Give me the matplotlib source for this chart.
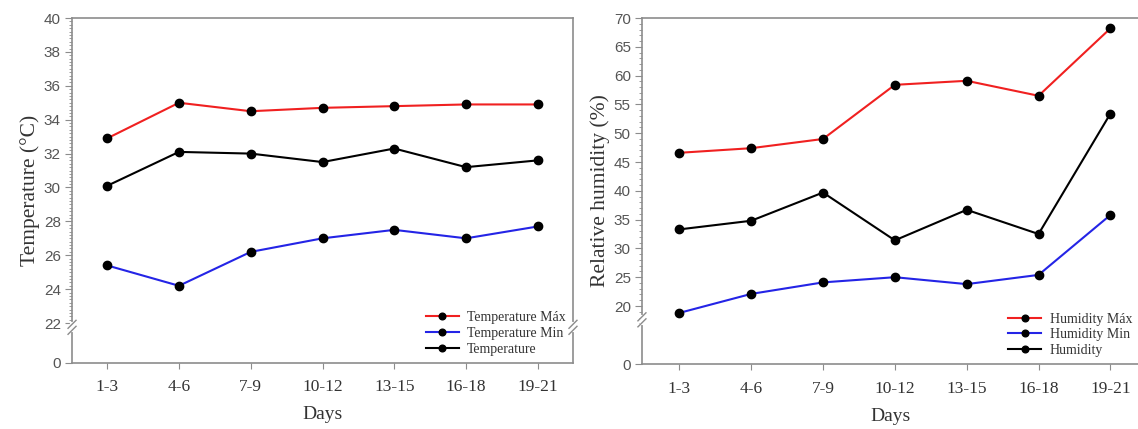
#Recreation of the temperature / humidity panels with broken y axes
import numpy as np
import matplotlib.pyplot as plt
from matplotlib.ticker import FixedLocator

#data
days = ['1-3', '4-6', '7-9', '10-12', '13-15', '16-18', '19-21']

temp_max = [32.9, 35.0, 34.5, 34.7, 34.8, 34.9, 34.9]
temp_min = [25.4, 24.2, 26.2, 27.0, 27.5, 27.0, 27.7]
temp_mean = [30.1, 32.1, 32.0, 31.5, 32.3, 31.2, 31.6]

hum_max = [46.6, 47.4, 49.0, 58.4, 59.1, 56.5, 68.2]
hum_min = [18.8, 22.1, 24.1, 25.0, 23.8, 25.4, 35.8]
hum_mean = [33.3, 34.8, 39.7, 31.4, 36.7, 32.5, 53.4]

temp_ticks = [22, 24, 26, 28, 30, 32, 34, 36, 38, 40]
hum_ticks = [20, 25, 30, 35, 40, 45, 50, 55, 60, 65, 70]

serif = ['Liberation Serif', 'DejaVu Serif']
sans = ['Liberation Sans', 'DejaVu Sans']
spine_col = '#8c8c8c'


def break_mark(ax, xa, yv):
    """ draws a '//' axis break on a spine at x (axes coords) and y (data) """
    y0, y1 = ax.get_ylim()
    ya = (yv - y0) / (y1 - y0)
    fig_h = ax.get_position().height * ax.figure.get_figheight() * ax.figure.dpi
    fig_w = ax.get_position().width * ax.figure.get_figwidth() * ax.figure.dpi
    dx = 4 / fig_w
    dy = 4 / fig_h
    gap = 3 / fig_h
    #white gap on the spine
    ax.plot([xa, xa], [ya - gap, ya + gap], color='white', lw=3,
            transform=ax.transAxes, clip_on=False, zorder=5)
    for off in (-gap, gap):
        ax.plot([xa - dx, xa + dx], [ya + off - dy, ya + off + dy],
                color=spine_col, lw=1, transform=ax.transAxes,
                clip_on=False, zorder=6)


def panel(ax, series, colors, labels, ylim, ticks, minor, brk, ylabel, xlim,
          right_break=True):
    x = np.arange(len(days))
    for vals, c, lab in zip(series, colors, labels):
        ax.plot(x, vals, color=c, lw=1.5, marker='o', ms=6,
                mfc='black', mec='black', label=lab, zorder=3)

    ax.set_xlim(xlim)
    ax.set_ylim(ylim)
    ax.set_xticks(x)
    ax.set_xticklabels(days, family=serif, fontsize=12.5, color='#333333')
    ax.set_yticks([ylim[0]] + ticks)
    ax.set_yticklabels(['0'] + [str(t) for t in ticks], family=sans,
                       fontsize=11, color='#555555')
    ax.yaxis.set_minor_locator(FixedLocator(minor))
    ax.tick_params(axis='y', which='major', direction='out', length=5,
                   color=spine_col, pad=3)
    ax.tick_params(axis='y', which='minor', direction='out', length=2.5,
                   color=spine_col)
    ax.tick_params(axis='x', direction='out', length=4, color=spine_col,
                   pad=8)

    for s in ax.spines.values():
        s.set_color(spine_col)
        s.set_linewidth(1.2)

    ax.set_xlabel('Days', family=serif, fontsize=14, color='#333333',
                  labelpad=8)
    ax.set_ylabel(ylabel, family=serif, fontsize=15.5, color='#333333',
                  labelpad=3)

    leg = ax.legend(loc='lower right', frameon=False, handlelength=2.4,
                    borderaxespad=0.1, labelspacing=0.2, markerscale=0.8,
                    handletextpad=0.6, prop={'family': serif, 'size': 10})
    for t in leg.get_texts():
        t.set_color('#333333')

    break_mark(ax, 0, brk)
    if right_break:
        break_mark(ax, 1, brk)


fig = plt.figure(figsize=(11.38, 4.29), dpi=100)
ax1 = fig.add_axes([0.0633, 0.1545, 0.4402, 0.8035])
ax2 = fig.add_axes([0.5641, 0.1515, 0.4369, 0.8065])

colors = ['#f02020', '#2424e6', 'black']

panel(ax1, [temp_max, temp_min, temp_mean], colors,
      ['Temperature Máx', 'Temperature Min', 'Temperature'],
      (19.66, 40), temp_ticks, np.arange(22, 40.01, 0.2), 21.75,
      'Temperature (°C)', (-0.49, 6.49))

panel(ax2, [hum_max, hum_min, hum_mean], colors,
      ['Humidity Máx', 'Humidity Min', 'Humidity'],
      (9.93, 70), hum_ticks, np.arange(17, 70.01, 1), 17.6,
      'Relative humidity (%)', (-0.52, 6.4), right_break=False)
ax2.spines['right'].set_visible(False)

fig.savefig('out.png', dpi=100)
